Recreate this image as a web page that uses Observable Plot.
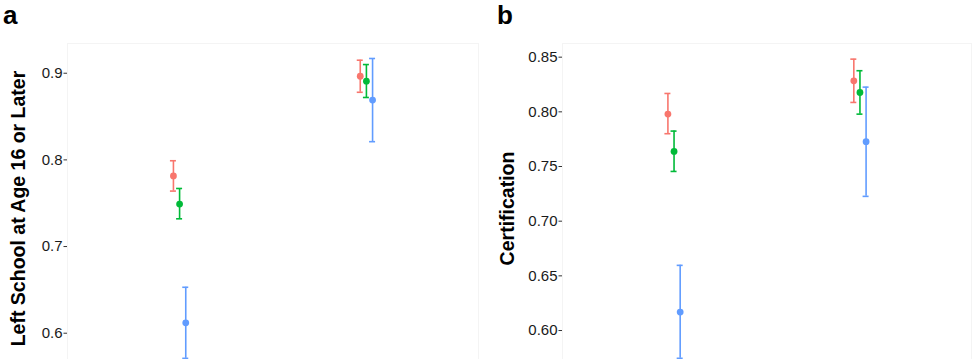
<!DOCTYPE html>
<html>
<head>
<meta charset="utf-8">
<script src="https://cdn.jsdelivr.net/npm/d3@7"></script>
<script src="https://cdn.jsdelivr.net/npm/@observablehq/plot@0.6"></script>
<style>
  html, body { margin: 0; padding: 0; background: #fff; overflow: hidden; }
  #fig { display: flex; align-items: flex-start; width: 973px; height: 359px; overflow: hidden; }
  #fig svg { flex: none; max-width: none !important; }
</style>
</head>
<body>
<div id="fig"></div>
<script>
// ---- data ----
const groups = ["Group 1", "Group 2"];
const series = ["Series 1", "Series 2", "Series 3"];
const seriesColors = ["#F8766D", "#00BA38", "#619CFF"];

// Panel a: Left School at Age 16 or Later
const meanA = [[0.7815, 0.7490, 0.6120], [0.8965, 0.8908, 0.8690]];
const lowA  = [[0.7640, 0.7320, 0.5710], [0.8780, 0.8720, 0.8210]];
const highA = [[0.7990, 0.7670, 0.6530], [0.9150, 0.9100, 0.9170]];
const ticksA = [0.6, 0.7, 0.8, 0.9];

// Panel b: Certification
const meanB = [[0.7980, 0.7638, 0.6169], [0.8284, 0.8177, 0.7727]];
const lowB  = [[0.7800, 0.7455, 0.5746], [0.8086, 0.7979, 0.7227]];
const highB = [[0.8168, 0.7824, 0.6596], [0.8482, 0.8376, 0.8226]];
const ticksB = [0.60, 0.65, 0.70, 0.75, 0.80, 0.85];

const dodge = 0.033; // dodge step, in group units
const font = "'Liberation Sans', Arial, Helvetica, sans-serif";

function rows(mean, low, high) {
  const out = [];
  groups.forEach((g, gi) => series.forEach((s, si) => {
    out.push({group: g, series: s, x: gi + (si - 1) * dodge,
              mean: mean[gi][si], lo: low[gi][si], hi: high[gi][si]});
  }));
  return out;
}

function panel({data, letter, title, ticks, fmt, domain, width, marginLeft, marginRight, titleDx, letterDx}) {
  const svg = Plot.plot({
    width, height: 373,
    marginLeft, marginRight, marginTop: 43, marginBottom: 0,
    style: {fontFamily: font, fontSize: "15px", color: "#1a1a1a", background: "white", overflow: "visible"},
    x: {domain: [-0.6, 1.6], axis: null},
    y: {domain, axis: null},
    color: {domain: series, range: seriesColors},
    marks: [
      Plot.frame({stroke: "#f4f4f4", strokeWidth: 1}),
      Plot.axisY({ticks, tickFormat: d3.format(fmt), tickSize: 3.5, tickPadding: 1.5,
                  label: null, fontSize: 15, stroke: "#333"}),
      Plot.ruleX(data, {x: "x", y1: "lo", y2: "hi", stroke: "series", strokeWidth: 1.6}),
      Plot.ruleY(data, {y: "lo", x1: "x", x2: "x", insetLeft: -3, insetRight: -3, stroke: "series", strokeWidth: 1.6}),
      Plot.ruleY(data, {y: "hi", x1: "x", x2: "x", insetLeft: -3, insetRight: -3, stroke: "series", strokeWidth: 1.6}),
      Plot.dot(data, {x: "x", y: "mean", fill: "series", r: 3.4}),
      Plot.text([title], {frameAnchor: "left", rotate: -90, dx: titleDx, lineAnchor: "bottom",
                          textAnchor: "middle", fontSize: 19.5, fontWeight: "bold", fill: "#000"}),
      Plot.text([letter], {frameAnchor: "top-left", dx: letterDx, dy: -20, lineAnchor: "bottom",
                           textAnchor: "start", fontSize: 26, fontWeight: "bold", fill: "#000"})
    ]
  });
  svg.style.width = width + "px";
  svg.style.height = "373px";
  return svg;
}

const fig = document.getElementById("fig");
fig.append(panel({
  data: rows(meanA, lowA, highA), letter: "a", title: "Left School at Age 16 or Later",
  ticks: ticksA, fmt: ".1f", domain: [0.5535, 0.9343],
  width: 486, marginLeft: 67, marginRight: 8, titleDx: -43, letterDx: -64.5
}));
fig.append(panel({
  data: rows(meanB, lowB, highB), letter: "b", title: "Certification",
  ticks: ticksB, fmt: ".2f", domain: [0.5607, 0.8625],
  width: 487, marginLeft: 76, marginRight: 2, titleDx: -49, letterDx: -65.5
}));
</script>
</body>
</html>
